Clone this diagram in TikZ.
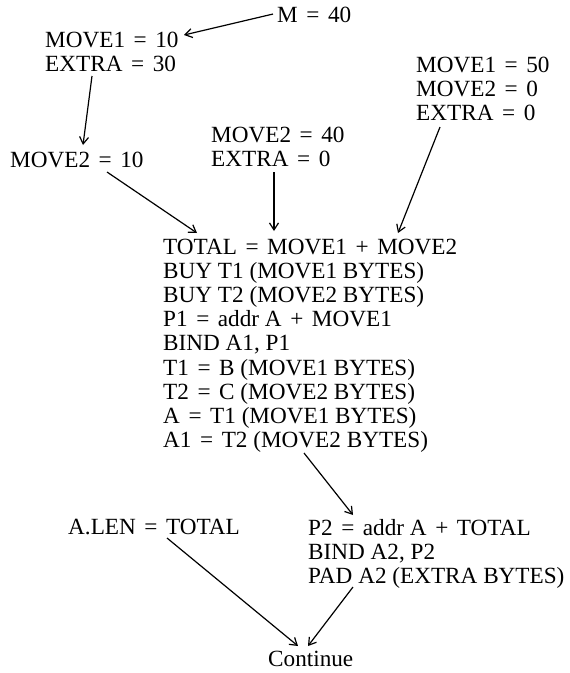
\documentclass[tikz,border=0pt]{standalone}
\usepackage{fontspec}
\setmainfont{Liberation Serif}
\usetikzlibrary{arrows.meta,calc}
\newcommand{\eq}{\hspace{0.37em}=\hspace{0.37em}}
\newcommand{\pl}{\hspace{0.37em}+\hspace{0.37em}}
\tikzset{
  txt/.style={anchor=north west, inner sep=0pt, align=left,
    font=\fontsize{23.2}{24.1}\selectfont},
  arr/.style={-{Straight Barb[length=7pt,width=9pt]}, line width=1.2pt}
}
\begin{document}
\begin{tikzpicture}[x=1pt,y=-1pt]
\useasboundingbox (0,0) rectangle (570,673);
% input assignments
\node[txt] (m)    at (277,7)   {M\eq 40};
\node[txt] (mvA)  at (45,32)   {MOVE1\eq 10\\EXTRA\eq 30};
\node[txt] (mvB)  at (10,152)  {MOVE2\eq 10};
\node[txt] (mvC)  at (211,127) {MOVE2\eq 40\\EXTRA\eq 0};
\node[txt] (mvD)  at (416,57)  {MOVE1\eq 50\\MOVE2\eq 0\\EXTRA\eq 0};
% main sequence
\node[txt] (main) at (163,239) {TOTAL\eq MOVE1\pl MOVE2\\
  BUY T1 (MOVE1 BYTES)\\BUY T2 (MOVE2 BYTES)\\P1\eq addr A\pl MOVE1\\
  BIND A1, P1\\T1\eq B (MOVE1 BYTES)\\T2\eq C (MOVE2 BYTES)\\
  A\eq T1 (MOVE1 BYTES)\\A1\eq T2 (MOVE2 BYTES)};
\node[txt] (alen) at (68,519)  {A.LEN\eq TOTAL};
\node[txt] (pad)  at (308,519) {P2\eq addr A\pl TOTAL\\BIND A2, P2\\PAD A2 (EXTRA BYTES)};
\node[txt, text depth=0pt] (cont) at (268,651) {Continue};
% connectors
\draw[arr] ($(m.west)+(-4,-1)$) -- ($(mvA.north west)+(139,3)$);
\draw[arr] ($(mvA.north west)+(47,44)$) -- ($(mvB.north west)+(73,-7)$);
\draw[arr] ($(mvB.north west)+(97,20)$) -- ($(main.north west)+(34,-6)$);
\draw[arr] ($(mvC.north west)+(63,45)$) -- ($(main.north west)+(111,-8)$);
\draw[arr] ($(mvD.north west)+(24,70)$) -- ($(main.north west)+(235,-6)$);
\draw[arr] ($(main.north west)+(141,214)$) -- ($(pad.north west)+(45,-4)$);
\draw[arr] ($(alen.north west)+(99,19)$) -- ($(cont.north west)+(30,-5)$);
\draw[arr] ($(pad.north west)+(45,68)$) -- ($(cont.north west)+(40,-5)$);
\end{tikzpicture}
\end{document}
